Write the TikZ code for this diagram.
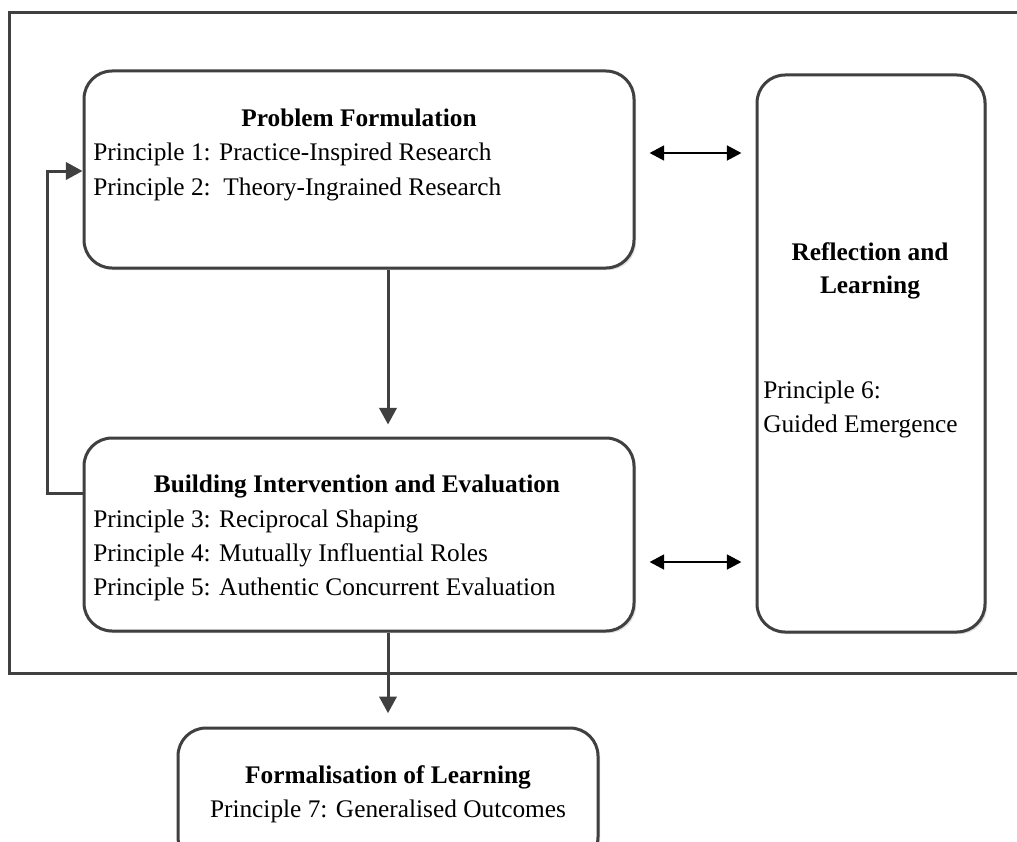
\documentclass[tikz,border=0pt]{standalone}
\usepackage{fontspec}
\setmainfont{Liberation Serif}
\usetikzlibrary{arrows.meta,shadows}

\tikzset{
  edge/.style={draw=black!75, line width=2.25pt},
  boxshadow/.style={drop shadow={shadow xshift=1.6pt, shadow yshift=-1.6pt, fill=black!12, opacity=1}},
  stage/.style={rectangle, edge, rounded corners=21pt, fill=white, boxshadow, inner sep=0pt},
  outer/.style={rectangle, edge, fill=white, boxshadow, inner sep=0pt},
  flow/.style={draw=black!75, line width=2.25pt, -{Triangle[length=12.5pt,width=13pt]}},
  link/.style={draw=black, line width=2.1pt, {Triangle[length=11pt,width=11pt]}-{Triangle[length=11pt,width=11pt]}, shorten <=10.5pt, shorten >=10.5pt},
  txt/.style={inner sep=0pt, font=\fontsize{19}{23}\selectfont},
  head/.style={txt, font=\fontsize{19}{23}\selectfont\bfseries},
}

\begin{document}
\begin{tikzpicture}[x=0.75pt, y=-0.75pt]
  \useasboundingbox (0,0) rectangle (1017,842);
  \fill[white] (0,0) rectangle (1017,842);
  \clip (0,0) rectangle (1017,842);

  % enclosing frame of the iterative cycle
  \node[outer, minimum width=773.25pt, minimum height=495pt] (frame) at (524.5,343) {};

  % stage boxes
  \node[stage, minimum width=412.5pt, minimum height=147.75pt] (prob) at (359,169.5) {};
  \node[stage, minimum width=171pt, minimum height=417.75pt] (refl) at (871,353.5) {};
  \node[stage, minimum width=412.5pt, minimum height=144.75pt] (bie) at (359,534.5) {};
  \node[stage, minimum width=315pt, minimum height=102.75pt] (form) at (388,796.5) {};

  % texts
  \node[head, anchor=base] (t1) at (359,127) {Problem Formulation};
  \node[txt, anchor=base west] (p1) at (93,160) {Principle 1: Practice-Inspired Research};
  \node[txt, anchor=base west] (p2) at (93,195) {Principle 2:\ \ Theory-Ingrained Research};

  \node[head, anchor=base] (t2) at (357,492) {Building Intervention and Evaluation};
  \node[txt, anchor=base west] (p3) at (93,527) {Principle 3: Reciprocal Shaping};
  \node[txt, anchor=base west] (p4) at (93,561) {Principle 4: Mutually Influential Roles};
  \node[txt, anchor=base west] (p5) at (93,595) {Principle 5: Authentic Concurrent Evaluation};

  \node[head, anchor=base] (t3a) at (870,260) {Reflection and};
  \node[head, anchor=base] (t3b) at (870,293) {Learning};
  \node[txt, anchor=base west] (p6a) at (763,398) {Principle 6:};
  \node[txt, anchor=base west] (p6b) at (763,432) {Guided Emergence};

  \node[head, anchor=base] (t4) at (388,783) {Formalisation of Learning};
  \node[txt, anchor=base] (p7) at (388,817) {Principle 7: Generalised Outcomes};

  % connector helpers
  \coordinate (vx) at (388,0);
  \coordinate (r1) at (0,153);
  \coordinate (r2) at (0,562);
  \coordinate (fbout) at (0,493);
  \coordinate (fbin) at (0,171);
  \coordinate (fbcorner) at (47,171);

  % connectors
  \draw[flow, shorten >=9pt] (prob.south -| vx) -- (bie.north -| vx);
  \draw[flow, shorten >=10pt] (bie.south -| vx) -- (form.north -| vx);
  \draw[flow] (bie.west |- fbout) -| (fbcorner) -- (prob.west |- fbin);
  \draw[link] (prob.east |- r1) -- (refl.west |- r1);
  \draw[link] (bie.east |- r2) -- (refl.west |- r2);
\end{tikzpicture}
\end{document}
